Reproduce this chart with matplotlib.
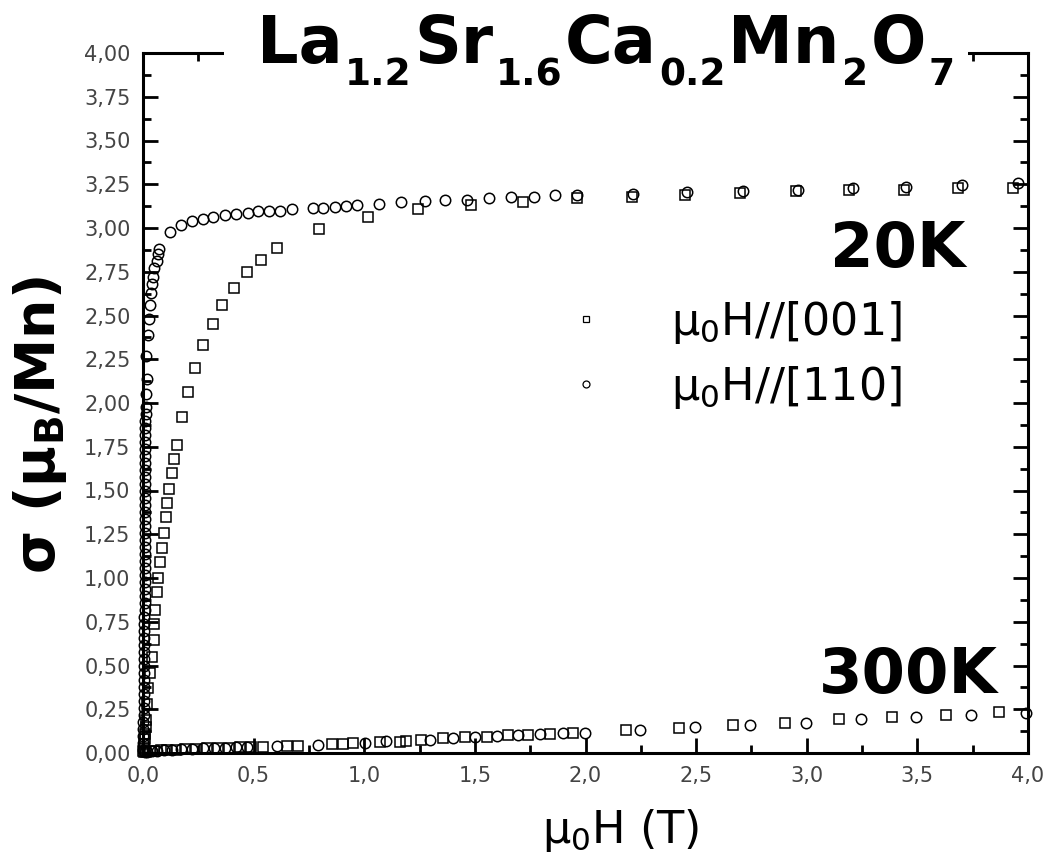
import matplotlib
matplotlib.use("Agg")
import matplotlib.pyplot as plt
from matplotlib.lines import Line2D
from matplotlib.patches import Rectangle
from matplotlib.ticker import MultipleLocator, FuncFormatter

# ---------------- data ----------------
# 20 K, field // [001]  (squares)
h20_001 = [0.002, 0.004, 0.006, 0.008, 0.010, 0.012, 0.014, 0.020, 0.024, 0.032,
           0.039, 0.048, 0.048, 0.056, 0.065, 0.069, 0.077, 0.087, 0.095, 0.102,
           0.110, 0.119, 0.133, 0.140, 0.154, 0.176, 0.205, 0.234, 0.271, 0.315,
           0.358, 0.413, 0.469, 0.533, 0.604, 0.797, 1.018, 1.244, 1.482, 1.719,
           1.960, 2.210, 2.450, 2.700, 2.950, 3.190, 3.440, 3.685, 3.930]
m20_001 = [0.010, 0.030, 0.050, 0.080, 0.110, 0.150, 0.190, 0.280, 0.370, 0.455,
           0.550, 0.646, 0.735, 0.820, 0.920, 1.000, 1.090, 1.170, 1.260, 1.350,
           1.430, 1.510, 1.600, 1.680, 1.760, 1.920, 2.065, 2.200, 2.330, 2.450,
           2.560, 2.660, 2.750, 2.820, 2.886, 2.996, 3.065, 3.110, 3.130, 3.150,
           3.170, 3.180, 3.190, 3.200, 3.210, 3.220, 3.220, 3.230, 3.230]

# 20 K, field // [110]  (circles)
h20_110 = [0.000, 0.001, 0.001, 0.002, 0.002, 0.003, 0.003, 0.003, 0.004, 0.004,
           0.004, 0.005, 0.005, 0.005, 0.005, 0.006, 0.006, 0.006, 0.006, 0.006,
           0.007, 0.007, 0.007, 0.007, 0.007, 0.008, 0.008, 0.008, 0.008, 0.008,
           0.008, 0.009, 0.009, 0.009, 0.009, 0.009, 0.009, 0.010, 0.010, 0.010,
           0.010, 0.010, 0.010, 0.011, 0.011, 0.011, 0.011, 0.011, 0.012, 0.012,
           0.014, 0.020, 0.014, 0.024, 0.026, 0.032, 0.035, 0.039, 0.047, 0.051,
           0.062, 0.066, 0.074, 0.122, 0.172, 0.220, 0.270, 0.318, 0.371, 0.420,
           0.473, 0.521, 0.570, 0.619, 0.672, 0.770, 0.815, 0.868, 0.917, 0.966,
           1.068, 1.166, 1.274, 1.365, 1.463, 1.565, 1.663, 1.769, 1.862, 1.963,
           2.213, 2.457, 2.710, 2.960, 3.210, 3.450, 3.700, 3.955]
m20_110 = [0.02, 0.06, 0.10, 0.14, 0.18, 0.22, 0.26, 0.30, 0.34, 0.38,
           0.42, 0.46, 0.50, 0.54, 0.58, 0.62, 0.66, 0.70, 0.74, 0.78,
           0.82, 0.86, 0.90, 0.94, 0.98, 1.02, 1.06, 1.10, 1.14, 1.18,
           1.22, 1.26, 1.30, 1.34, 1.38, 1.42, 1.46, 1.50, 1.54, 1.58,
           1.62, 1.66, 1.70, 1.74, 1.78, 1.82, 1.86, 1.90, 1.94, 1.98,
           2.050, 2.137, 2.270, 2.390, 2.480, 2.560, 2.630, 2.680, 2.720, 2.770,
           2.810, 2.850, 2.880, 2.980, 3.017, 3.040, 3.053, 3.065, 3.074, 3.080,
           3.087, 3.095, 3.097, 3.100, 3.106, 3.117, 3.117, 3.120, 3.126, 3.130,
           3.140, 3.150, 3.156, 3.160, 3.160, 3.170, 3.180, 3.180, 3.186, 3.190,
           3.197, 3.203, 3.210, 3.220, 3.230, 3.236, 3.246, 3.255]

# 300 K, field // [001]  (squares)
h300_001 = [0.005, 0.015, 0.030, 0.050, 0.080, 0.110, 0.150, 0.190, 0.240, 0.290,
            0.340, 0.390, 0.440, 0.490, 0.544, 0.649, 0.702, 0.853, 0.905, 0.950,
            1.071, 1.160, 1.190, 1.255, 1.357, 1.455, 1.553, 1.651, 1.741, 1.840,
            1.942, 2.183, 2.424, 2.665, 2.900, 3.146, 3.387, 3.628, 3.869]
m300_001 = [0.003, 0.006, 0.009, 0.012, 0.015, 0.018, 0.020, 0.022, 0.025, 0.027,
            0.029, 0.031, 0.033, 0.035, 0.036, 0.040, 0.042, 0.051, 0.053, 0.056,
            0.062, 0.065, 0.066, 0.075, 0.083, 0.090, 0.093, 0.103, 0.104, 0.109,
            0.112, 0.131, 0.145, 0.160, 0.173, 0.194, 0.203, 0.217, 0.232]

# 300 K, field // [110]  (circles)
h300_110 = [0.010, 0.020, 0.040, 0.065, 0.095, 0.130, 0.170, 0.220, 0.270, 0.320,
            0.370, 0.420, 0.470, 0.604, 0.790, 1.003, 1.100, 1.297, 1.403, 1.500,
            1.598, 1.696, 1.794, 1.897, 1.998, 2.246, 2.495, 2.743, 2.997, 3.243,
            3.492, 3.742, 3.991]
m300_110 = [0.004, 0.008, 0.011, 0.014, 0.017, 0.019, 0.021, 0.024, 0.026, 0.028,
            0.030, 0.032, 0.034, 0.038, 0.047, 0.059, 0.066, 0.076, 0.083, 0.092,
            0.095, 0.101, 0.108, 0.113, 0.117, 0.132, 0.146, 0.160, 0.174, 0.192,
            0.204, 0.217, 0.228]

legend_labels = ["μ$_0$H//[001]", "μ$_0$H//[110]"]
# title pieces: (text, is_subscript)
title_pieces = [("La", False), ("1.2", True), ("Sr", False), ("1.6", True),
                ("Ca", False), ("0.2", True), ("Mn", False), ("2", True),
                ("O", False), ("7", True)]

# ---------------- figure ----------------
plt.rcParams['font.family'] = ['DejaVu Sans']
plt.rcParams['mathtext.fontset'] = 'dejavusans'

W, H = 1050, 861
fig = plt.figure(figsize=(W / 100, H / 100), dpi=100)
ax = fig.add_axes([143 / W, 108 / H, 885 / W, 700 / H])

sq = dict(marker='s', ms=6.5, mfc='none', mec='black', mew=1.1, ls='none', clip_on=False, zorder=3)
ci = dict(marker='o', ms=7.5, mfc='none', mec='black', mew=1.1, ls='none', clip_on=False, zorder=3)

ax.plot(h20_001, m20_001, **sq)
ax.plot(h20_110, m20_110, **ci)
ax.plot(h300_001, m300_001, **sq)
ax.plot(h300_110, m300_110, **ci)

ax.set_xlim(0, 4)
ax.set_ylim(0, 4)
ax.xaxis.set_major_locator(MultipleLocator(0.5))
ax.xaxis.set_minor_locator(MultipleLocator(0.25))
ax.yaxis.set_major_locator(MultipleLocator(0.25))
ax.yaxis.set_minor_locator(MultipleLocator(0.125))
ax.xaxis.set_major_formatter(FuncFormatter(lambda v, p: f"{v:.1f}".replace('.', ',')))
ax.yaxis.set_major_formatter(FuncFormatter(lambda v, p: f"{v:.2f}".replace('.', ',')))

for s in ax.spines.values():
    s.set_linewidth(2.2)
ax.tick_params(which='both', direction='in', top=True, right=True, width=2.0,
               labelsize=15, labelcolor='#444444')
ax.tick_params(which='major', length=11, pad=9)
ax.tick_params(which='minor', length=5.5)

# white gap in the top spine behind the title
fig.patches.append(Rectangle((224 / W, 1 - 70 / H), (968 - 224) / W, 32 / H,
                             transform=fig.transFigure, facecolor='white',
                             edgecolor='none', zorder=2))

# title built from pieces with large, deep subscripts
renderer = fig.canvas.get_renderer()
x = 257.0
base = 63.0
for txt, sub in title_pieces:
    size = 27 if sub else 47
    y = base + (22 if sub else 0)
    t = fig.text(x / W, 1 - y / H, txt, fontsize=size, fontweight='bold',
                 ha='left', va='baseline', zorder=5)
    x += t.get_window_extent(renderer).width + (3 if sub else 2)

# temperature labels
ax.text(0.929, 0.719, "20K", transform=ax.transAxes, ha='right', va='center',
        fontsize=45, fontweight='bold')
ax.text(0.966, 0.110, "300K", transform=ax.transAxes, ha='right', va='center',
        fontsize=45, fontweight='bold')

# legend
handles = [Line2D([], [], marker='s', ms=4.5, mfc='none', mec='black', mew=0.9, ls='none'),
           Line2D([], [], marker='o', ms=5, mfc='none', mec='black', mew=0.9, ls='none')]
ax.legend(handles, legend_labels, loc='center left', bbox_to_anchor=(0.476, 0.569),
          frameon=False, fontsize=32, handlelength=1.0, handletextpad=1.4,
          borderpad=0, borderaxespad=0, labelspacing=0.4)

# axis labels
fig.text(40 / W, 1 - 425 / H, r"σ (μ$_\mathbf{B}$/Mn)", rotation=90, fontweight='bold',
         ha='center', va='center', fontsize=40)
fig.text(621 / W, 1 - 830 / H, "μ$_0$H (T)", ha='center', va='center', fontsize=32)

fig.savefig("out.png", dpi=100)
